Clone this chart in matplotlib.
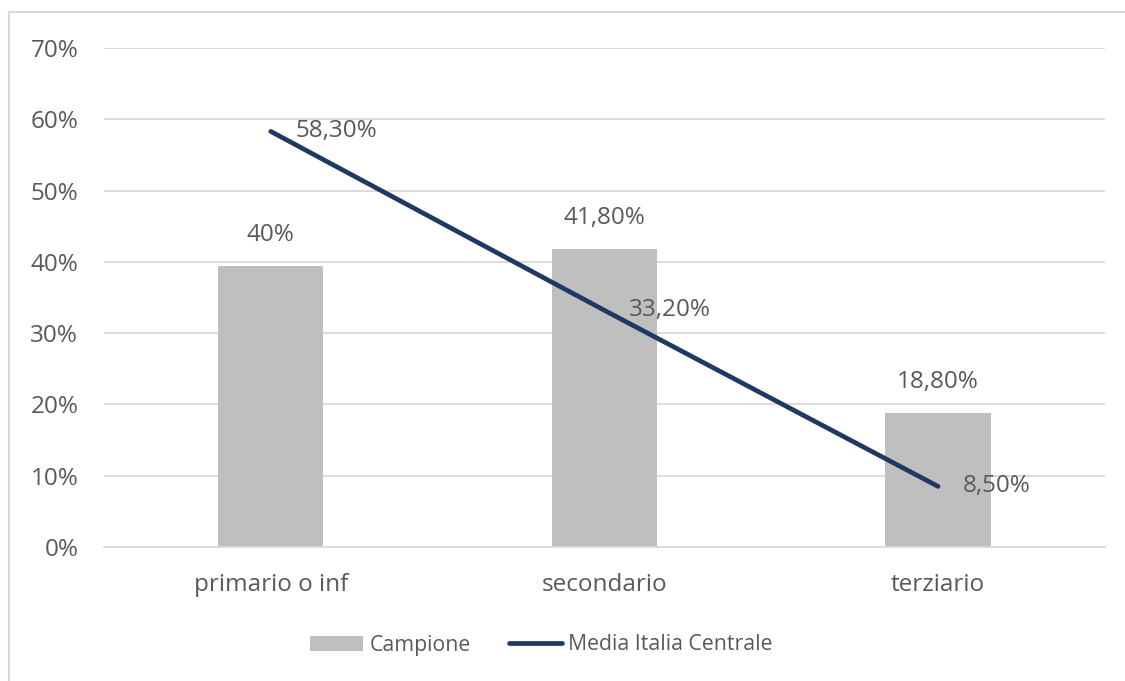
import matplotlib
matplotlib.use("Agg")
import matplotlib.pyplot as plt
from matplotlib.lines import Line2D
from matplotlib.patches import Patch
from matplotlib.ticker import FuncFormatter

# ─── Data ────────────────────────────────────────────────────────────────────

categories   = ["primario o inf", "secondario", "terziario"]
campione     = [0.394, 0.418, 0.188]
campione_lbl = ["40%", "41,80%", "18,80%"]
media        = [0.583, 0.332, 0.085]
media_lbl    = ["58,30%", "33,20%", "8,50%"]
yticks       = [0.0, 0.1, 0.2, 0.3, 0.4, 0.5, 0.6, 0.7]

# ─── Colors ──────────────────────────────────────────────────────────────────

BAR  = "#BFBFBF"
LINE = "#1F3864"
TEXT = "#595959"
GRID = "#D9D9D9"

FS = 17.5

plt.rcParams["font.family"] = ["Open Sans", "DejaVu Sans"]

fig = plt.figure(figsize=(11.25, 6.81), dpi=100, facecolor="white")
ax = fig.add_axes([0.0924, 0.1968, 0.8897, 0.7327])

x = list(range(len(categories)))
ax.bar(x, campione, width=0.315, color=BAR, zorder=2)
ax.plot(x, media, color=LINE, linewidth=3.4, solid_capstyle="round", zorder=3)

for xi, v, s in zip(x, campione, campione_lbl):
    ax.annotate(s, (xi, v), xytext=(0, 31), textcoords="offset pixels",
                ha="center", va="center", color=TEXT, fontsize=FS, zorder=4)
for xi, v, s in zip(x, media, media_lbl):
    ax.annotate(s, (xi, v), xytext=(25, 0), textcoords="offset pixels",
                ha="left", va="center", color=TEXT, fontsize=FS, zorder=4)

ax.set_xlim(-0.5, 2.5)
ax.set_ylim(0, 0.7)
ax.set_yticks(yticks)
ax.yaxis.set_major_formatter(FuncFormatter(lambda v, _: f"{v * 100:.0f}%"))
ax.set_xticks(x)
ax.set_xticklabels(categories)
ax.tick_params(axis="y", length=0, pad=18.5, labelcolor=TEXT, labelsize=FS)
ax.tick_params(axis="x", length=0, pad=19, labelcolor=TEXT, labelsize=FS)
ax.grid(axis="y", color=GRID, linewidth=1.3, zorder=0)
for side in ["left", "right", "top"]:
    ax.spines[side].set_visible(False)
ax.spines["bottom"].set_color(GRID)
ax.spines["bottom"].set_linewidth(1.3)

handles = [Patch(facecolor=BAR, edgecolor="none"),
           Line2D([0], [0], color=LINE, linewidth=3.4, solid_capstyle="round")]
fig.legend(handles, ["Campione", "Media Italia Centrale"],
           loc="center", bbox_to_anchor=(541.5 / 1125, 1 - 645 / 681), ncol=2,
           frameon=False, fontsize=15.3, labelcolor=TEXT,
           handlelength=2.5, handletextpad=0.3, columnspacing=1.8)

# outer chart border (only top and left visible in the crop)
fig.add_artist(Line2D([9 / 1125, 1.0], [1 - 12 / 681, 1 - 12 / 681],
                      transform=fig.transFigure, color=GRID, linewidth=1.5))
fig.add_artist(Line2D([9 / 1125, 9 / 1125], [0.0, 1 - 12 / 681],
                      transform=fig.transFigure, color=GRID, linewidth=1.5))

fig.savefig("out.png", dpi=100, facecolor="white")
